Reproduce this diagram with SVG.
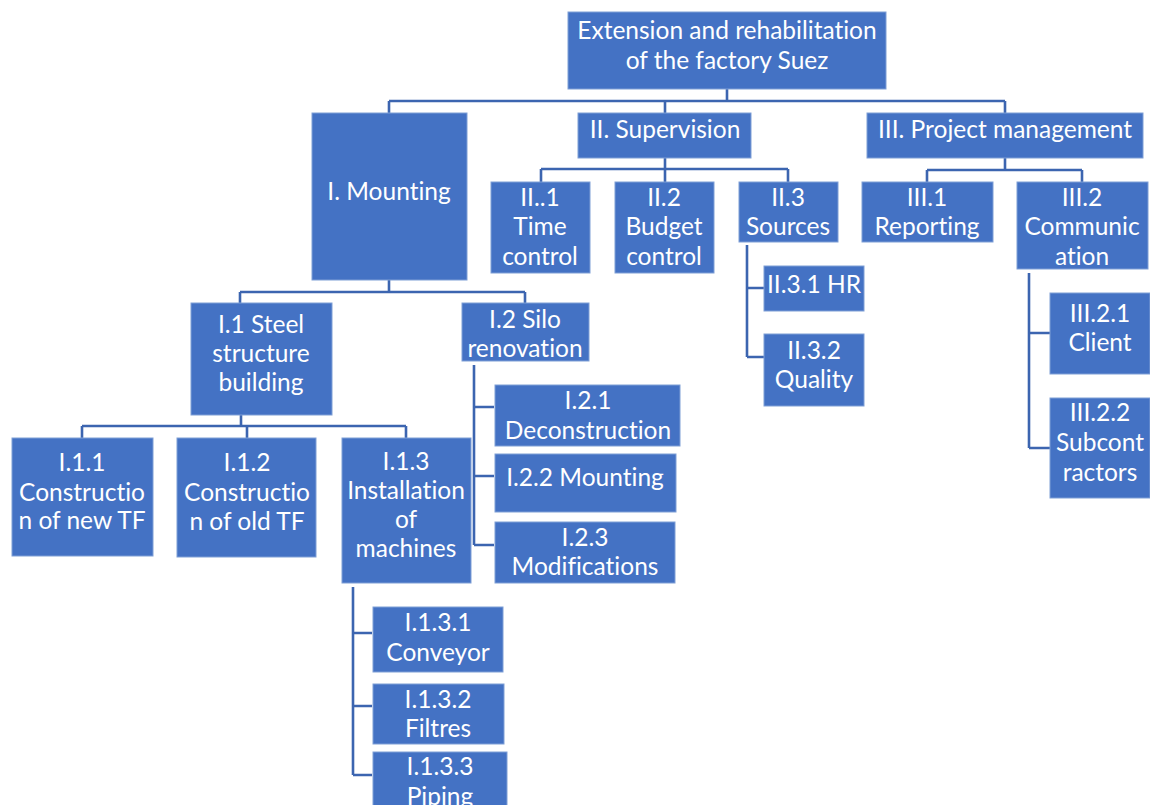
<svg xmlns="http://www.w3.org/2000/svg" width="1150" height="805" viewBox="0 0 1150 805">
  <style>
    .box { fill: #4472C4; stroke: #7f9fd6; stroke-width: 1; }
    .lbl { fill: #ffffff; font-family: Lato, "Liberation Sans", sans-serif; font-size: 24.5px; text-anchor: middle; font-variant-ligatures: none; }
    .wire { fill: none; stroke: #3C65B0; stroke-width: 2.6; stroke-linejoin: miter; }
  </style>
  <rect width="1150" height="805" fill="#ffffff"/>

  <!-- connectors -->
  <g id="connectors" class="wire">
    <!-- root to level 1 -->
    <path d="M727,89 V101 M389,101 H1005 M389,101 V113 M665,101 V113 M1005,101 V113"/>
    <!-- supervision branch -->
    <path d="M665,158 V169 M541,169 H788 M541,169 V182 M665,169 V182 M788,169 V182"/>
    <!-- project management branch -->
    <path d="M1005,158 V170 M927,170 H1082 M927,170 V182 M1082,170 V182"/>
    <!-- sources children -->
    <path d="M747,245 V357 M747,288 H764 M747,357 H764"/>
    <!-- communication children -->
    <path d="M1029,273 V448 M1029,333 H1050 M1029,448 H1050"/>
    <!-- mounting branch -->
    <path d="M389,280 V292 M240,292 H525 M240,292 V303 M525,292 V303"/>
    <!-- steel structure children -->
    <path d="M241,415 V426 M82,426 H406 M82,426 V438 M247,426 V438 M406,426 V438"/>
    <!-- silo renovation children -->
    <path d="M474,365 V545 M474,407 H494 M474,476 H494 M474,545 H494"/>
    <!-- installation of machines children -->
    <path d="M353,587 V775 M353,633 H372 M353,706 H372 M353,775 H372"/>
  </g>

  <g id="root">
    <rect class="box" x="568" y="12" width="318" height="77"/>
    <text class="lbl" x="727" y="39">Extension and rehabilitation</text>
    <text class="lbl" x="727" y="69">of the factory Suez</text>
  </g>

  <g id="n-I">
    <rect class="box" x="312" y="113" width="155" height="167"/>
    <text class="lbl" x="389" y="200">I. Mounting</text>
  </g>
  <g id="n-II">
    <rect class="box" x="578" y="113" width="173" height="45"/>
    <text class="lbl" x="665" y="138">II. Supervision</text>
  </g>
  <g id="n-III">
    <rect class="box" x="867" y="113" width="276" height="45"/>
    <text class="lbl" x="1005" y="138">III. Project management</text>
  </g>

  <g id="n-II-1">
    <rect class="box" x="491" y="182" width="99" height="91"/>
    <text class="lbl" x="540" y="206">II..1</text>
    <text class="lbl" x="540" y="235">Time</text>
    <text class="lbl" x="540" y="265">control</text>
  </g>
  <g id="n-II-2">
    <rect class="box" x="615" y="182" width="99" height="91"/>
    <text class="lbl" x="664" y="206">II.2</text>
    <text class="lbl" x="664" y="235">Budget</text>
    <text class="lbl" x="664" y="265">control</text>
  </g>
  <g id="n-II-3">
    <rect class="box" x="739" y="182" width="99" height="60"/>
    <text class="lbl" x="788" y="206">II.3</text>
    <text class="lbl" x="788" y="235">Sources</text>
  </g>
  <g id="n-II-3-1">
    <rect class="box" x="764" y="266" width="100" height="45"/>
    <text class="lbl" x="814" y="293">II.3.1 HR</text>
  </g>
  <g id="n-II-3-2">
    <rect class="box" x="764" y="334" width="100" height="72"/>
    <text class="lbl" x="814" y="359">II.3.2</text>
    <text class="lbl" x="814" y="388">Quality</text>
  </g>

  <g id="n-III-1">
    <rect class="box" x="862" y="182" width="131" height="60"/>
    <text class="lbl" x="927" y="206">III.1</text>
    <text class="lbl" x="927" y="235">Reporting</text>
  </g>
  <g id="n-III-2">
    <rect class="box" x="1017" y="182" width="131" height="87"/>
    <text class="lbl" x="1082" y="206">III.2</text>
    <text class="lbl" x="1082" y="235">Communic</text>
    <text class="lbl" x="1082" y="265">ation</text>
  </g>
  <g id="n-III-2-1">
    <rect class="box" x="1050" y="293" width="100" height="81"/>
    <text class="lbl" x="1100" y="322">III.2.1</text>
    <text class="lbl" x="1100" y="351">Client</text>
  </g>
  <g id="n-III-2-2">
    <rect class="box" x="1050" y="398" width="100" height="100"/>
    <text class="lbl" x="1100" y="421">III.2.2</text>
    <text class="lbl" x="1100" y="451">Subcont</text>
    <text class="lbl" x="1100" y="481">ractors</text>
  </g>

  <g id="n-I-1">
    <rect class="box" x="191" y="303" width="141" height="112"/>
    <text class="lbl" x="261" y="333">I.1 Steel</text>
    <text class="lbl" x="261" y="362">structure</text>
    <text class="lbl" x="261" y="391">building</text>
  </g>
  <g id="n-I-2">
    <rect class="box" x="462" y="303" width="127" height="58"/>
    <text class="lbl" x="525" y="328">I.2 Silo</text>
    <text class="lbl" x="525" y="357">renovation</text>
  </g>

  <g id="n-I-1-1">
    <rect class="box" x="12" y="438" width="141" height="118"/>
    <text class="lbl" x="82" y="471">I.1.1</text>
    <text class="lbl" x="82" y="501">Constructio</text>
    <text class="lbl" x="82" y="529">n of new TF</text>
  </g>
  <g id="n-I-1-2">
    <rect class="box" x="177" y="438" width="139" height="119"/>
    <text class="lbl" x="247" y="471">I.1.2</text>
    <text class="lbl" x="247" y="501">Constructio</text>
    <text class="lbl" x="247" y="530">n of old TF</text>
  </g>
  <g id="n-I-1-3">
    <rect class="box" x="342" y="438" width="129" height="145"/>
    <text class="lbl" x="406" y="470">I.1.3</text>
    <text class="lbl" x="406" y="499">Installation</text>
    <text class="lbl" x="406" y="528">of</text>
    <text class="lbl" x="406" y="557">machines</text>
  </g>

  <g id="n-I-2-1">
    <rect class="box" x="495" y="385" width="185" height="61"/>
    <text class="lbl" x="588" y="409">I.2.1</text>
    <text class="lbl" x="588" y="439">Deconstruction</text>
  </g>
  <g id="n-I-2-2">
    <rect class="box" x="495" y="454" width="181" height="58"/>
    <text class="lbl" x="585" y="486">I.2.2 Mounting</text>
  </g>
  <g id="n-I-2-3">
    <rect class="box" x="495" y="522" width="180" height="61"/>
    <text class="lbl" x="585" y="546">I.2.3</text>
    <text class="lbl" x="585" y="575">Modifications</text>
  </g>

  <g id="n-I-1-3-1">
    <rect class="box" x="373" y="607" width="130" height="65"/>
    <text class="lbl" x="438" y="631">I.1.3.1</text>
    <text class="lbl" x="438" y="661">Conveyor</text>
  </g>
  <g id="n-I-1-3-2">
    <rect class="box" x="373" y="684" width="131" height="60"/>
    <text class="lbl" x="438" y="708">I.1.3.2</text>
    <text class="lbl" x="438" y="737">Filtres</text>
  </g>
  <g id="n-I-1-3-3">
    <rect class="box" x="373" y="752" width="134" height="60"/>
    <text class="lbl" x="440" y="775">I.1.3.3</text>
    <text class="lbl" x="440" y="805">Piping</text>
  </g>
</svg>
